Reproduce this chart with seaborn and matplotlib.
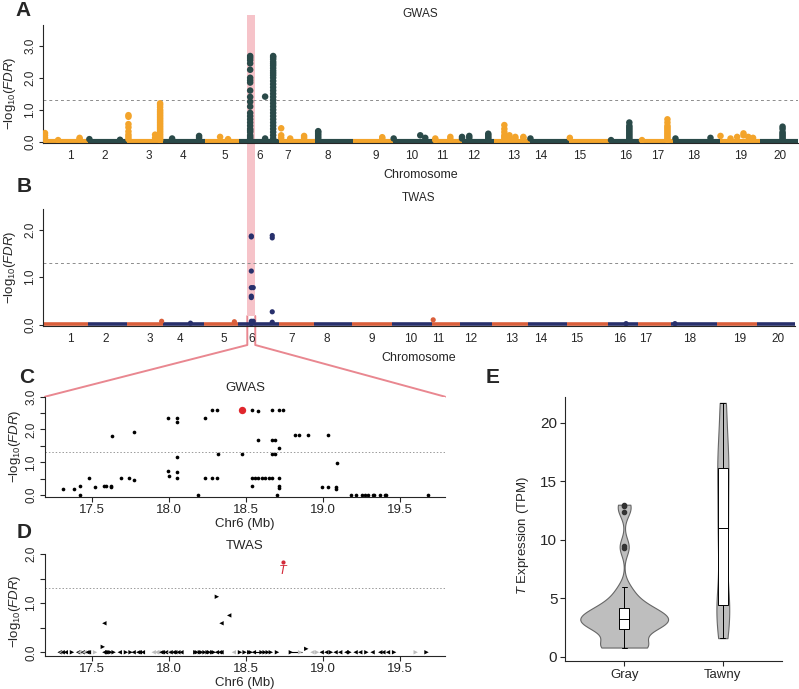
import numpy as np
import pandas as pd
import matplotlib
matplotlib.use("Agg")
import matplotlib.pyplot as plt
import seaborn as sns
from matplotlib.patches import Rectangle
from matplotlib.lines import Line2D

# ---------------- data ----------------
chrom_len = [56.8, 48.6, 45.8, 52.4, 42.2, 51.4, 44.6, 47.8, 50.2, 51.6,
             34.8, 40.1, 45.9, 49.0, 51.8, 37.9, 41.6, 58.0, 50.6, 47.9]
chrom_names = [str(i) for i in range(1, 21)]
# where the chromosome labels sit (cumulative Mb)
ticks_gwas = [35, 78, 133, 176, 228, 272, 307, 358, 418, 464,
              502, 541, 591, 625, 675, 733, 772, 818, 877, 927]
ticks_twas = [34, 79, 135, 173, 228, 263, 314, 358, 415, 464,
              499, 540, 591, 628, 673, 728, 760, 816, 879, 927]

# GWAS peaks: chromosome, position in chromosome (Mb), -log10(FDR) of SNPs there
gwas_peak_chr = [1, 1, 1, 2, 2, 3, 3, 3, 4, 4, 5, 5, 6, 6, 6, 7, 7, 7, 8, 9,
                 10, 10, 10, 11, 11, 12, 12, 12, 13, 13, 13, 13, 14, 15, 16, 16,
                 17, 17, 18, 18, 19, 19, 19, 19, 19, 19, 20]
gwas_peak_pos = [2.5, 19.0, 46.0, 1.5, 40.0, 2.0, 35.5, 41.8, 11.1, 45.0, 19.0, 29.0,
                 14.6, 33.4, 43.5, 2.2, 13.5, 31.0, 4.1, 36.8, 1.0, 34.4, 40.7,
                 1.7, 20.6, 0.5, 9.6, 33.5, 13.6, 20.0, 27.4, 37.5, 0.5, 1.0, 1.0,
                 24.0, 2.0, 34.0, 2.5, 46.5, 1.1, 13.7, 22.0, 30.0, 36.0, 42.0, 28.5]
gwas_peak_vals = [
    [0.27, 0.2, 0.12, 0.06], [0.05], [0.12, 0.08], [0.08], [0.06],
    [0.83, 0.78, 0.55, 0.45, 0.32, 0.22, 0.15, 0.08], [0.22, 0.12],
    [1.2, 1.15, 1.08, 1.0, 0.95, 0.9, 0.85, 0.8, 0.75, 0.7, 0.65, 0.6, 0.55,
     0.5, 0.45, 0.4, 0.35, 0.3, 0.25, 0.2, 0.15, 0.1, 0.05],
    [0.1], [0.18, 0.12], [0.15], [0.08],
    [2.68, 2.62, 2.55, 2.45, 2.25, 2.0, 1.92, 1.85, 1.6, 1.4, 1.25, 1.1, 0.9,
     0.8, 0.7, 0.6, 0.5, 0.4, 0.35, 0.3, 0.2, 0.15, 0.1, 0.05],
    [1.41, 0.1],
    [2.68, 2.64, 2.58, 2.5, 2.44, 2.38, 2.3, 2.22, 2.15, 2.08, 2.0, 1.9, 1.8,
     1.7, 1.6, 1.5, 1.4, 1.3, 1.2, 1.1, 1.0, 0.9, 0.8, 0.7, 0.6, 0.5, 0.4,
     0.3, 0.2, 0.1, 0.05],
    [0.42, 0.2, 0.12], [0.1], [0.18, 0.12],
    [0.33, 0.3, 0.25, 0.2, 0.15, 0.1, 0.05], [0.14, 0.1],
    [0.1], [0.2], [0.12], [0.1, 0.05], [0.15, 0.08],
    [0.15, 0.1], [0.18, 0.12], [0.25, 0.2, 0.15, 0.1, 0.05],
    [0.52, 0.4, 0.3, 0.2, 0.15, 0.1], [0.2, 0.12], [0.15, 0.1], [0.15, 0.12],
    [0.1], [0.12], [0.05],
    [0.6, 0.5, 0.45, 0.4, 0.35, 0.3, 0.25, 0.2, 0.15, 0.1, 0.05],
    [0.05], [0.7, 0.6, 0.5, 0.45, 0.4, 0.35, 0.3, 0.25, 0.2, 0.15, 0.1, 0.05],
    [0.1], [0.12], [0.18], [0.1], [0.15], [0.26, 0.2], [0.15], [0.12],
    [0.47, 0.4, 0.3, 0.25, 0.2, 0.15, 0.1, 0.05],
]

# TWAS genes above the baseline
twas_peak_chr = [3, 4, 5, 6, 6, 6, 11, 16, 18]
twas_peak_pos = [44.3, 34.9, 37.9, 17.1, 19.5, 43.5, 1.0, 22.8, 5.0]
twas_peak_vals = [[0.07], [0.03], [0.06],
                  [1.87, 1.85, 1.13, 0.78, 0.6, 0.57, 0.07, 0.02],
                  [0.78, 0.07], [1.88, 1.83, 0.27, 0.05], [0.1], [0.02], [0.02]]

highlight_chr6 = (11.0, 21.0)   # Mb on chr6 marked by the pink band

# chr6 zoom, GWAS SNPs
snp_pos = [17.31, 17.38, 17.42, 17.42, 17.48, 17.52, 17.58, 17.59, 17.62, 17.62,
           17.63, 17.69, 17.74, 17.77, 17.77, 17.99, 17.99, 18.00, 18.05, 18.05,
           18.05, 18.05, 18.05, 18.19, 18.23, 18.23, 18.28, 18.31, 18.28, 18.31,
           18.32, 18.47, 18.54, 18.54, 18.54, 18.58, 18.58, 18.56, 18.58, 18.60,
           18.62, 18.65, 18.67, 18.67, 18.67, 18.67, 18.69, 18.69, 18.70, 18.71,
           18.74, 18.71, 18.71, 18.71, 18.71, 18.82, 18.84, 18.90, 18.99, 19.03,
           19.03, 19.08, 19.08, 19.09, 19.18, 19.21, 19.25, 19.27, 19.29, 19.32,
           19.33, 19.37, 19.40, 19.41, 19.68]
snp_val = [0.19, 0.19, 0.27, 0.0, 0.51, 0.24, 0.27, 0.27, 0.27, 0.24,
           1.81, 0.51, 0.51, 0.46, 1.92, 2.36, 0.72, 0.57, 2.36, 2.22,
           1.15, 0.70, 0.51, 0.0, 2.36, 0.51, 2.6, 2.6, 0.51, 0.51,
           1.26, 1.26, 2.6, 0.29, 0.51, 2.56, 1.67, 0.51, 0.51, 0.51,
           0.51, 0.51, 0.51, 2.6, 1.67, 1.26, 1.67, 1.26, 0.0, 2.6,
           2.6, 1.43, 0.51, 0.29, 0.23, 1.82, 1.82, 1.82, 0.26, 0.26,
           1.82, 0.26, 0.2, 0.98, 0.0, 0.0, 0.0, 0.0, 0.0, 0.0,
           0.0, 0.0, 0.0, 0.0, 0.0]
lead_pos = [18.47]
lead_val = [2.6]

# chr6 zoom, TWAS genes (arrow = strand, gray = not tested)
gene_pos = [17.29, 17.30, 17.31, 17.33, 17.37, 17.41, 17.42, 17.44, 17.45, 17.47,
            17.48, 17.52, 17.58, 17.60, 17.61, 17.62, 17.64, 17.68, 17.72, 17.75,
            17.77, 17.80, 17.81, 17.83, 17.90, 17.92, 17.93, 17.95, 17.96, 17.98,
            18.00, 18.01, 18.03, 18.04, 18.06, 18.08, 18.17, 18.18, 18.20, 18.21,
            18.23, 18.25, 18.26, 18.28, 18.29, 18.31, 18.33, 18.34, 18.42, 18.46,
            18.49, 18.52, 18.53, 18.55, 18.60, 18.62, 18.64, 18.66, 18.70, 18.79,
            18.85, 18.93, 18.96, 18.99, 19.02, 19.05, 19.08, 19.11, 19.15, 19.17,
            19.21, 19.24, 19.28, 19.32, 19.37, 19.39, 19.42, 19.46, 19.60, 19.67]
gene_dir = ("<<<<><<<<<" "<><>>>><>>" "<<<<<<<<<<" "<<<<<<>>>>"
            ">>>>><<<<>" ">>><>>>>>>" "><><<><<<>" "<<><<<<>>>")
gene_shade = ("kgkkkkgkgk" "kgkkkkkkkk" "kkkkgggkkk" "gkkkkkkkkk"
              "kkkkkkkkgk" "kkkkkkkkkk" "gggkkkkkkk" "kkkkkkkkgk")
long_gene_start = [18.55, 18.79]
long_gene_end = [18.62, 18.86]
hit_pos = [17.57, 17.58, 18.31, 18.34, 18.39, 18.89]
hit_val = [0.11, 0.59, 1.13, 0.59, 0.75, 0.07]
hit_dir = "><><<>"
t_pos = [18.74]
t_val = [1.83]

# T expression
groups = ["Gray", "Tawny"]
gray_tpm = [0.8, 0.8, 0.8, 0.82, 0.85, 0.88, 0.9, 0.95, 1.0, 1.6,
            2.2, 2.4, 2.5, 2.6, 2.65, 2.7, 2.8, 2.85, 2.9, 3.0,
            3.05, 3.1, 3.2, 3.3, 3.35, 3.4, 3.5, 3.6, 3.7, 3.8,
            3.9, 4.0, 4.1, 4.2, 4.4, 4.6, 4.9, 5.2, 5.6, 6.0,
            9.3, 9.5, 12.4, 12.9, 13.0]
tawny_tpm = [1.6, 4.3, 4.4, 8.5, 11.0, 13.5, 16.1, 18.0, 21.7]

# ---------------- style ----------------
sns.set_theme(style="ticks")
plt.rcParams['font.family'] = ['Liberation Sans', 'DejaVu Sans']
plt.rcParams['mathtext.fontset'] = 'custom'
plt.rcParams['mathtext.rm'] = 'Liberation Sans'
plt.rcParams['mathtext.it'] = 'Liberation Sans:italic'
plt.rcParams['axes.linewidth'] = 0.8
plt.rcParams['xtick.major.width'] = 0.8
plt.rcParams['ytick.major.width'] = 0.8

GW_COLS = ['#F3A42B', '#2A4A49']
TW_COLS = ['#DA5F3B', '#28306C']
BAND = '#F6C3C9'
LINK = '#E98790'
YLAB = r'$-\mathrm{log}_{10}(\mathit{FDR})$'

W, H = 799, 689
fig = plt.figure(figsize=(W / 100, H / 100), dpi=100)


def axes_px(l, t, r, b):
    return fig.add_axes([l / W, 1 - b / H, (r - l) / W, (b - t) / H])


starts = np.concatenate([[0], np.cumsum(chrom_len)[:-1]])


def peaks_frame(chrs, pos, vals):
    rows = []
    for c, p, vs in zip(chrs, pos, vals):
        for v in vs:
            rows.append((c, starts[c - 1] + p, v))
    df = pd.DataFrame(rows, columns=['chr', 'bp', 'logp'])
    df['parity'] = np.where(df['chr'] % 2 == 1, 'odd', 'even')
    return df


def set_ylabel_at(ax, text, x_px, y_frac, size=9.5):
    # place a y label centred at a pixel x position
    l = ax.get_position().x0 * W
    w = ax.get_position().width * W
    ax.set_ylabel(text, fontsize=size)
    ax.yaxis.set_label_coords((x_px - l) / w, y_frac)
    ax.yaxis.label.set_va('center')


def manhattan(ax, df, cols, ticks, ylim, yt, size, base_lw, title):
    ax.set_facecolor('none')
    for i, (s0, L) in enumerate(zip(starts, chrom_len)):
        ax.plot([s0, s0 + L], [0.015, 0.015], color=cols[i % 2], lw=base_lw,
                solid_capstyle='butt', zorder=2)
    sns.scatterplot(data=df, x='bp', y='logp', hue='parity',
                    palette={'odd': cols[0], 'even': cols[1]}, s=size,
                    linewidth=0, legend=False, ax=ax, zorder=3)
    ax.axhline(1.3, color='#8c8c8c', lw=0.7, ls=(0, (3, 3)), zorder=1)
    ax.set_xlim(0, sum(chrom_len))
    ax.set_ylim(*ylim)
    ax.set_xticks(ticks)
    ax.set_xticklabels(chrom_names, fontsize=8.5)
    ax.set_yticks(yt)
    ax.set_yticklabels([f'{v:.1f}' for v in yt], rotation=90, va='center', fontsize=8.5)
    ax.tick_params(axis='x', length=0, pad=5)
    ax.tick_params(axis='y', length=3, pad=2)
    for s in ['top', 'right']:
        ax.spines[s].set_visible(False)
    ax.set_xlabel('Chromosome', fontsize=9)
    ax.text(0.5, 1.09, title, transform=ax.transAxes, ha='center', va='center', fontsize=8.5)


# ---- A: GWAS ----
axA = axes_px(43, 25, 798, 143.3)
gw = peaks_frame(gwas_peak_chr, gwas_peak_pos, gwas_peak_vals)
manhattan(axA, gw, GW_COLS, ticks_gwas, (-0.05, 3.65), [0, 1, 2, 3], 22, 3.0, 'GWAS')
axA.xaxis.set_label_coords(0.5, -0.27)
axA.xaxis.label.set_va('center')
set_ylabel_at(axA, YLAB, 10, 0.42)

# ---- B: TWAS ----
axB = axes_px(43, 209, 795, 326)
tw = peaks_frame(twas_peak_chr, twas_peak_pos, twas_peak_vals)
manhattan(axB, tw, TW_COLS, ticks_twas, (-0.03, 2.44), [0, 1, 2], 14, 2.6, 'TWAS')
axB.xaxis.set_label_coords(0.5, -0.275)
axB.xaxis.label.set_va('center')
set_ylabel_at(axB, YLAB, 10, 0.5)


def r_style(ax, ytop, xlabel, title):
    for s in ['top', 'right']:
        ax.spines[s].set_visible(False)
    ax.set_xlim(17.195, 19.79)
    ax.set_xticks([17.5, 18.0, 18.5, 19.0, 19.5])
    ax.set_xticklabels(['17.5', '18.0', '18.5', '19.0', '19.5'], fontsize=9.5)
    yt = np.arange(0, ytop + 0.01, 0.5)
    ax.set_yticks(yt)
    ax.set_yticklabels([f'{v:.1f}' if v % 1 == 0 else '' for v in yt],
                       rotation=90, va='center', fontsize=8.5)
    ax.tick_params(length=3.5, pad=2)
    ax.set_xlabel(xlabel, fontsize=9.5, labelpad=1)
    ax.text(0.5, 1.09, title, transform=ax.transAxes, ha='center', va='center', fontsize=9.5)


# ---- C: chr6 GWAS ----
axC = axes_px(45, 396.7, 445, 496.7)
snps = pd.DataFrame({'pos': snp_pos, 'logp': snp_val})
sns.scatterplot(data=snps, x='pos', y='logp', color='black', s=7, linewidth=0, ax=axC)
sns.scatterplot(x=lead_pos, y=lead_val, color='#E0262C', s=28, linewidth=0, ax=axC, zorder=4)
axC.axhline(1.3, color='#9a9a9a', lw=0.7, ls=(0, (1.5, 2)))
axC.set_ylim(-0.05, 3.0)
r_style(axC, 3.0, 'Chr6 (Mb)', 'GWAS')
set_ylabel_at(axC, YLAB, 15, 0.5)

# ---- D: chr6 TWAS ----
axD = axes_px(45, 554, 445, 655.7)
genes = pd.DataFrame({'pos': gene_pos, 'logp': 0.0,
                      'dir': list(gene_dir), 'shade': list(gene_shade)})
hits = pd.DataFrame({'pos': hit_pos, 'logp': hit_val, 'dir': list(hit_dir), 'shade': 'k'})
allg = pd.concat([genes, hits], ignore_index=True)
axD.hlines([0.0] * len(long_gene_start), long_gene_start, long_gene_end, color='black', lw=0.8)
sns.scatterplot(data=allg, x='pos', y='logp', hue='shade', style='dir',
                palette={'k': 'black', 'g': '#BDBDBD'}, markers={'<': '<', '>': '>'},
                s=10, linewidth=0, legend=False, ax=axD, zorder=3)
sns.scatterplot(x=t_pos, y=t_val, color='#D32A3A', s=9, linewidth=0, ax=axD, zorder=4)
axD.text(t_pos[0], t_val[0] - 0.17, 'T', color='#D32A3A', style='italic',
         ha='center', va='center', fontsize=9)
axD.axhline(1.3, color='#9a9a9a', lw=0.7, ls=(0, (1.5, 2)))
axD.set_ylim(-0.07, 2.0)
r_style(axD, 2.0, 'Chr6 (Mb)', 'TWAS')
axD.texts[-1].set_position((0.5, 1.08))
set_ylabel_at(axD, YLAB, 15, 0.44)

# ---- E: T expression ----
axE = axes_px(565, 397, 782, 661)
expr = pd.DataFrame({'group': ['Gray'] * len(gray_tpm) + ['Tawny'] * len(tawny_tpm),
                     'tpm': gray_tpm + tawny_tpm})
sns.violinplot(data=expr[expr.group == 'Gray'], x='group', y='tpm', order=groups,
               color='#BEBEBE', linecolor='#666666', linewidth=0.8, inner=None,
               cut=0, width=0.89, bw_adjust=0.5, saturation=1, ax=axE)
sns.violinplot(data=expr[expr.group == 'Tawny'], x='group', y='tpm', order=groups,
               color='#BEBEBE', linecolor='#666666', linewidth=0.8, inner=None,
               cut=0, width=0.13, bw_adjust=0.5, saturation=1, ax=axE)
sns.boxplot(data=expr, x='group', y='tpm', order=groups, width=0.1, color='white',
            linecolor='black', linewidth=0.7, saturation=1, fliersize=3,
            flierprops=dict(marker='o', markerfacecolor='#333333', markeredgecolor='#333333'),
            ax=axE)
axE.set_xlim(-0.6, 1.6)
axE.set_ylim(-0.35, 22.2)
axE.set_yticks([0, 5, 10, 15, 20])
axE.tick_params(axis='y', labelsize=11, length=3.5, pad=2)
axE.tick_params(axis='x', labelsize=9.5, length=3.5, pad=2)
for s in ['top', 'right']:
    axE.spines[s].set_visible(False)
axE.set_xlabel('')
set_ylabel_at(axE, r'$\mathit{T}$ Expression (TPM)', 523, 0.477)

# ---- highlight band and zoom connectors ----
fig.canvas.draw()
inv = fig.transFigure.inverted()
x0 = axA.transData.transform((starts[5] + highlight_chr6[0], 0))[0]
x1 = axA.transData.transform((starts[5] + highlight_chr6[1], 0))[0]
fx0 = x0 / W
fx1 = x1 / W
band_top = 1 - 15 / H
band_fill_bot = 1 - 316 / H
band_line_bot = 1 - 345 / H
fig.patches.append(Rectangle((fx0, band_fill_bot), fx1 - fx0, band_top - band_fill_bot,
                             transform=fig.transFigure, facecolor=BAND, edgecolor='none',
                             zorder=-1))
c_left = inv.transform(axC.transAxes.transform((0, 1)))
c_right = inv.transform(axC.transAxes.transform((1, 1)))
for xs, ys in [([fx0, fx0, c_left[0]], [band_fill_bot, band_line_bot, c_left[1]]),
               ([fx1, fx1, c_right[0]], [band_fill_bot, band_line_bot, c_right[1]])]:
    fig.add_artist(Line2D(xs, ys, transform=fig.transFigure, color=LINK, lw=1.4, zorder=-1))

# panel letters
for lab, (px, py) in zip('ABCDE', [(23, 10), (24, 186), (27, 378), (24, 532), (493, 378)]):
    fig.text(px / W, 1 - py / H, lab, fontsize=15, fontweight='bold',
             ha='center', va='center')

fig.savefig('out.png', dpi=100)
